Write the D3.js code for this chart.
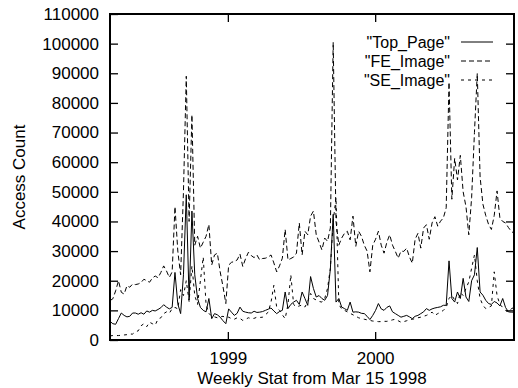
<!DOCTYPE html>
<html>
<head>
<meta charset="utf-8">
<script src="https://cdn.jsdelivr.net/npm/d3@7"></script>
<style>
  body { margin: 0; background: #fff; }
  text { font-family: "Liberation Sans", Arial, Helvetica, sans-serif; }
</style>
</head>
<body>
<div id="chart"></div>
<script>
// weekly access counts, first week = Mar 15 1998
const topPage = [
  6300, 5500, 5300, 7200, 9100, 8300, 7800, 8000, 9100, 9100,
  8700, 9200, 8700, 9800, 9400, 10000, 9800, 10300, 10900, 11900,
  11100, 10500, 11000, 22800, 12200, 8900, 22000, 49000, 13500, 43500,
  22000, 14000, 11000, 10000, 9500, 14000, 7200, 8900, 8500, 7700,
  6500, 5500, 10500, 9400, 8300, 9000, 11100, 9700, 9400, 9200,
  9100, 9700, 9300, 9400, 9600, 10000, 10400, 10800, 9800, 8900,
  9600, 10000, 16200, 10600, 12000, 12800, 13400, 12000, 16200, 14000,
  11700, 21400, 17400, 14500, 15000, 14000, 13400, 15000, 24000, 42400,
  12800, 14000, 11100, 10600, 10000, 12800, 9400, 9500, 9400, 9000,
  8900, 8000, 6900, 8300, 10000, 12300, 10500, 10000, 11000, 11500,
  9500, 8900, 8300, 7700, 8000, 8300, 7800, 7200, 8000, 8300,
  8900, 9500, 10600, 10000, 10500, 10800, 11000, 11200, 11700, 11700,
  26700, 14000, 12800, 16200, 14000, 20800, 14500, 13000, 20000, 22000,
  31200, 16200, 15100, 13400, 12300, 12000, 13000, 12500, 11500, 14000,
  11000, 9500, 9400, 9400
];
const feImage = [
  13300, 13900, 16600, 20000, 16100, 15500, 18300, 17800, 18900, 18700,
  18900, 19400, 20500, 20000, 19500, 20900, 21600, 21000, 22800, 25000,
  23300, 21100, 23000, 45000, 30000, 22000, 50000, 89000, 40000, 76000,
  32000, 35000, 31000, 33000, 35000, 39000, 25300, 28700, 29300, 23000,
  18000, 12300, 25300, 26200, 26500, 27000, 29000, 24800, 27500, 29600,
  28500, 27800, 28700, 27000, 27500, 27600, 28000, 28700, 26000, 23000,
  25000, 27600, 37300, 27000, 27500, 28000, 29300, 39500, 28700, 36700,
  35500, 41800, 43500, 35500, 33000, 30400, 34400, 33300, 37800, 100500,
  40000, 32000, 34400, 36000, 36700, 33800, 41800, 31600, 36700, 35000,
  32000, 30000, 23000, 32000, 34000, 36700, 32000, 29300, 33000, 35500,
  32000, 29900, 27600, 30000, 29900, 31000, 28000, 25900, 34000, 36000,
  31000, 37800, 38900, 34000, 39500, 41600, 38400, 40100, 41200, 44600,
  87000, 47500, 61300, 54000, 62300, 50000, 45000, 35500, 48000, 70000,
  90000, 55000, 45800, 42000, 39000, 37300, 42000, 50300, 41200, 40000,
  39500, 38000, 36700, 36000
];
const seImage = [
  1400, 1500, 1500, 1500, 1600, 1700, 1800, 2000, 2000, 2800,
  3100, 4800, 5500, 4500, 6000, 5500, 5000, 7100, 7500, 8900,
  9500, 9000, 10600, 11000, 10500, 17000, 15000, 20000, 13000, 25000,
  15000, 12000, 20000, 28000, 12000, 9000, 8000, 7800, 7500, 7800,
  8000, 7500, 7700, 7200, 7000, 7500, 7300, 6600, 7000, 7500,
  7200, 7300, 7700, 7600, 7700, 8500, 9400, 12800, 18500, 11000,
  10000, 8500, 7200, 12000, 22000, 12000, 11100, 11500, 11800, 11100,
  13000, 15700, 14000, 13500, 13000, 12800, 14000, 17400, 24200, 40000,
  48000, 12000, 10500, 10000, 9500, 9000, 8500, 8000, 7500, 7200,
  7000, 6800, 6600, 6400, 6300, 6200, 6200, 6300, 6300, 6500,
  6800, 7000, 6500, 6000, 6200, 6500, 6800, 7000, 7200, 7500,
  7700, 8000, 8300, 8800, 9400, 8300, 8900, 9400, 10000, 11000,
  14000, 15100, 13500, 12300, 16000, 15000, 17400, 19600, 24200, 28700,
  20000, 14000, 11700, 10600, 11000, 11500, 23000, 15000, 12000, 11000,
  10000, 9500, 10500, 11000
];
const seriesNames = ['"Top_Page"', '"FE_Image"', '"SE_Image"'];
const yTicks = d3.range(0, 110001, 10000);

const startDate = new Date(1998, 2, 15);
const weeks = topPage.map((_, i) => d3.timeDay.offset(startDate, i * 7));

const margin = { top: 14, right: 4, bottom: 48, left: 110 };
const width = 518 - margin.left - margin.right;
const height = 388 - margin.top - margin.bottom;

const svg = d3.select("#chart")
    .append("svg")
    .attr("width", 518)
    .attr("height", 388)
    .append("g")
    .attr("transform", `translate(${margin.left},${margin.top})`);

const x = d3.scaleTime()
    .domain([weeks[0], weeks[weeks.length - 1]])
    .range([0, width]);

const y = d3.scaleLinear()
    .domain([0, 110000])
    .range([height, 0]);

const fontSize = "17px";
const yearTicks = x.ticks(d3.timeYear);

// axes with inward ticks, mirrored on top and right
svg.append("g")
    .attr("transform", `translate(0,${height})`)
    .call(d3.axisBottom(x).tickValues(yearTicks).tickFormat(d3.timeFormat("%Y"))
        .tickSize(-8).tickPadding(12));
svg.append("g")
    .call(d3.axisTop(x).tickValues(yearTicks).tickFormat("").tickSize(-8));
svg.append("g")
    .call(d3.axisLeft(y).tickValues(yTicks).tickFormat(d3.format("d"))
        .tickSize(-8).tickPadding(11));
svg.append("g")
    .attr("transform", `translate(${width},0)`)
    .call(d3.axisRight(y).tickValues(yTicks.slice(1, -1)).tickFormat("").tickSize(-8));

svg.selectAll(".domain").remove();
svg.selectAll(".tick line").attr("stroke", "#000").attr("stroke-width", 1.3);
svg.selectAll(".tick text")
    .attr("fill", "#000")
    .style("font-size", fontSize)
    .style("font-family", '"Liberation Sans", Arial, sans-serif');

// frame
svg.append("rect")
    .attr("x", 0).attr("y", 0)
    .attr("width", width).attr("height", height)
    .attr("fill", "none")
    .attr("stroke", "#000")
    .attr("stroke-width", 2);

const series = [
  { name: seriesNames[0], values: topPage, dash: null },
  { name: seriesNames[1], values: feImage, dash: "5,3" },
  { name: seriesNames[2], values: seImage, dash: "3,4" }
];

const line = d3.line()
    .x((d, i) => x(weeks[i]))
    .y(d => y(d));

svg.selectAll(".series")
    .data(series)
    .enter().append("path")
    .attr("class", "series")
    .attr("d", d => line(d.values))
    .attr("fill", "none")
    .attr("stroke", "#000")
    .attr("stroke-width", 1)
    .attr("stroke-dasharray", d => d.dash);

// key
const key = svg.append("g")
    .attr("transform", `translate(${340},${28})`);
const rows = key.selectAll("g")
    .data(series)
    .enter().append("g")
    .attr("transform", (d, i) => `translate(0,${i * 19})`);
rows.append("text")
    .attr("x", 0)
    .attr("dy", "0.35em")
    .attr("text-anchor", "end")
    .style("font-size", "16px")
    .text(d => d.name);
rows.append("line")
    .attr("x1", 11).attr("x2", 43)
    .attr("stroke", "#000")
    .attr("stroke-width", 1)
    .attr("stroke-dasharray", d => d.dash);

// axis titles
svg.append("text")
    .attr("x", width / 2)
    .attr("y", height + 44)
    .attr("text-anchor", "middle")
    .style("font-size", fontSize)
    .text("Weekly Stat from Mar 15 1998");

svg.append("text")
    .attr("transform", `translate(${25 - margin.left},${height / 2}) rotate(-90)`)
    .attr("text-anchor", "middle")
    .style("font-size", fontSize)
    .text("Access Count");
</script>
</body>
</html>
